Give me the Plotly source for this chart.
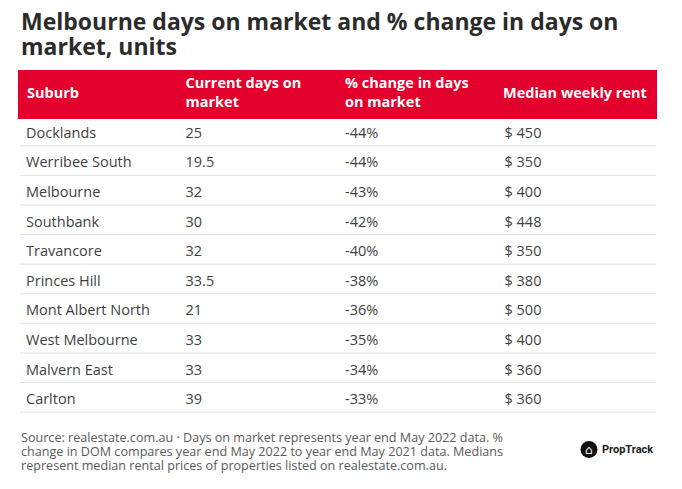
import plotly.graph_objects as go

suburbs = ["Docklands", "Werribee South", "Melbourne", "Southbank", "Travancore",
           "Princes Hill", "Mont Albert North", "West Melbourne", "Malvern East", "Carlton"]
days_on_market = ["25", "19.5", "32", "30", "32", "33.5", "21", "33", "33", "39"]
pct_change = ["-44%", "-44%", "-43%", "-42%", "-40%", "-38%", "-36%", "-35%", "-34%", "-33%"]
median_rent = ["$ 450", "$ 350", "$ 400", "$ 448", "$ 350", "$ 380", "$ 500", "$ 400", "$ 360", "$ 360"]
headers = ["Suburb", "Current days on<br>market", "% change in days<br>on market", "Median weekly rent"]
title_lines = ["Melbourne days on market and % change in days on", "market, units"]
source_lines = ["Source: realestate.com.au · Days on market represents year end May 2022 data. %",
                "change in DOM compares year end May 2022 to year end May 2021 data. Medians",
                "represent median rental prices of properties listed on realestate.com.au."]

W, H = 682, 489
OFF = 8  # page body margin


def fx(px):
    return (px - OFF) / W


def fy(py):
    return 1 - (py - OFF) / H


FONT = "Open Sans"
RED = "#E3002C"
TXT = "#3f3f3f"

table_left, table_right = 18, 656
domain_top = 65
header_h = 45
row_h = 29.6
red_top, red_bottom = 70, 116
first_row_center = 131
col_w = (table_right - table_left) / len(headers)
label_pad = [7, 7, 7, 4.5]

# single-line header labels are centred vertically as annotations; two-line ones live in the table header
single_line = [("<br>" not in h) for h in headers]
table_headers = ["" if s else f"<b>{h}</b>" for h, s in zip(headers, single_line)]

fig = go.Figure()
fig.add_trace(go.Table(
    domain=dict(x=[fx(table_left), fx(table_right)], y=[0, fy(domain_top)]),
    columnwidth=[1, 1, 1, 1],
    header=dict(values=table_headers,
                fill_color=RED, line_color=RED, align="left", height=header_h,
                font=dict(family=FONT, size=14.5, color="white")),
    cells=dict(values=[suburbs, days_on_market, pct_change, median_rent],
               fill_color="white", line_color="white", align="left", height=row_h,
               font=dict(family=FONT, size=14.5, color=TXT)),
))

shapes = [
    dict(type="rect", xref="paper", yref="paper", layer="above",
         x0=fx(table_left - 1), x1=fx(table_right + 1), y0=fy(red_top), y1=fy(domain_top - 1),
         fillcolor="white", line=dict(width=0)),
    dict(type="rect", xref="paper", yref="paper", layer="above",
         x0=fx(table_left), x1=fx(table_right), y0=fy(red_bottom), y1=fy(domain_top + header_h - 1),
         fillcolor=RED, line=dict(width=0)),
]
for i in range(len(suburbs)):
    ypx = first_row_center + i * row_h + row_h / 2
    shapes.append(dict(type="line", xref="paper", yref="paper", layer="above",
                       x0=fx(table_left + 2), x1=fx(table_right),
                       y0=fy(ypx), y1=fy(ypx),
                       line=dict(color="#e2e2e2", width=1)))
shapes.append(dict(type="circle", xref="paper", yref="paper",
                   x0=fx(580.5), x1=fx(597.5), y0=fy(458), y1=fy(441),
                   fillcolor="#111", line=dict(width=0)))

annotations = []
for j, (h, s) in enumerate(zip(headers, single_line)):
    if s:
        annotations.append(dict(text=f"<b>{h}</b>", x=fx(table_left + j * col_w + label_pad[j]), y=fy(93),
                                xref="paper", yref="paper", xanchor="left", yanchor="middle",
                                showarrow=False, font=dict(family=FONT, size=14.5, color="white")))
for i, line in enumerate(title_lines):
    annotations.append(dict(text=f"<b>{line}</b>", x=fx(19), y=fy(21 + i * 25),
                            xref="paper", yref="paper", xanchor="left", yanchor="middle",
                            showarrow=False, font=dict(family=FONT, size=23, color="#2b2b2b")))
for i, line in enumerate(source_lines):
    annotations.append(dict(text=line, x=fx(19), y=fy(437 + i * 14),
                            xref="paper", yref="paper", xanchor="left", yanchor="middle",
                            showarrow=False, font=dict(family=FONT, size=12.6, color="#5a5a5a")))
annotations += [
    dict(text="⌂", x=fx(589), y=fy(449.5), xref="paper", yref="paper",
         xanchor="center", yanchor="middle", showarrow=False,
         font=dict(family="DejaVu Sans", size=12, color="white")),
    dict(text="<b>PropTrack</b>", x=fx(600), y=fy(449.5), xref="paper", yref="paper",
         xanchor="left", yanchor="middle", showarrow=False,
         font=dict(family="Roboto", size=11, color="#222")),
]

fig.update_layout(
    width=W, height=H,
    margin=dict(l=0, r=0, t=0, b=0),
    paper_bgcolor="white", plot_bgcolor="white",
    shapes=shapes,
    annotations=annotations,
)

fig.write_html("out.html")
